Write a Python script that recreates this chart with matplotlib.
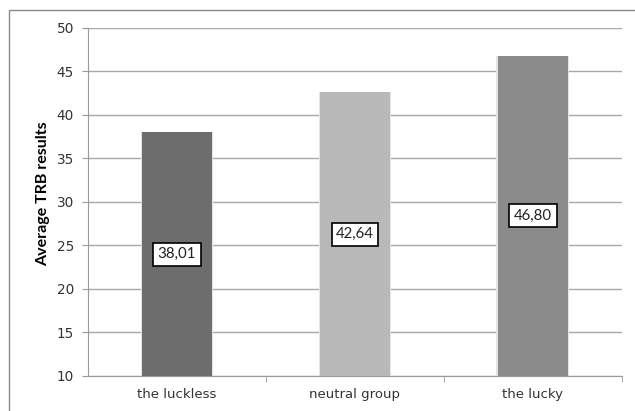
"""Bar chart of average TRB results for the three luck groups."""

import matplotlib

matplotlib.use("Agg")
import matplotlib.pyplot as plt  # noqa: E402
from matplotlib.patches import Rectangle  # noqa: E402

GROUPS = ["the luckless", "neutral group", "the lucky"]
AVERAGE_TRB = [38.01, 42.64, 46.80]
BAR_COLORS = ["#6d6d6d", "#b9b9b9", "#8b8b8b"]
Y_TICKS = [10, 15, 20, 25, 30, 35, 40, 45, 50]

plt.rcParams.update(
    {
        "font.family": ["Lato", "DejaVu Sans"],
        "font.size": 10,
    }
)

figure = plt.figure(figsize=(6.35, 4.11), dpi=100)
axis = figure.add_axes([0.1386, 0.0852, 0.8409, 0.8467])

# chart frame, left and top edges visible
figure.patches.append(
    Rectangle(
        (9 / 635, -0.1),
        1.2,
        1.1 - 10 / 411,
        transform=figure.transFigure,
        fill=False,
        edgecolor="#8a8a8a",
        linewidth=1.0,
    )
)

positions = range(len(GROUPS))
# soft light edge around each bar
axis.bar(positions, AVERAGE_TRB, width=0.41, color="#e4e4e4", zorder=2)
axis.bar(positions, AVERAGE_TRB, width=0.39, color=BAR_COLORS, zorder=3)

for x, value in zip(positions, AVERAGE_TRB):
    axis.text(
        x,
        (Y_TICKS[0] + value) / 2,
        f"{value:.2f}".replace(".", ","),
        ha="center",
        va="center",
        fontsize=10.8,
        color="#222222",
        zorder=4,
        bbox={
            "boxstyle": "square,pad=0.3",
            "facecolor": "white",
            "edgecolor": "black",
            "linewidth": 1.2,
        },
    )

axis.set_xlim(-0.5, len(GROUPS) - 0.5)
axis.set_ylim(Y_TICKS[0], Y_TICKS[-1])
axis.set_yticks(Y_TICKS)
axis.set_xticks(list(positions), GROUPS)
axis.set_xticks([0.5, 1.5, 2.5], minor=True)
axis.tick_params(axis="x", which="major", length=0, pad=9, labelsize=9.5, labelcolor="#333333")
axis.tick_params(axis="x", which="minor", length=4, color="#9a9a9a")
axis.tick_params(axis="y", length=4, color="#9a9a9a", labelsize=9.8, labelcolor="#333333", pad=6)
for label in axis.get_xticklabels() + axis.get_yticklabels():
    label.set_family("DejaVu Sans")

axis.grid(axis="y", color="#a8a8a8", linewidth=1.0, zorder=0)
axis.set_axisbelow(True)
for side in ("top", "right"):
    axis.spines[side].set_visible(False)
for side in ("left", "bottom"):
    axis.spines[side].set_color("#9a9a9a")

axis.set_ylabel("Average TRB results", fontsize=11.5, fontweight="bold", labelpad=5)
axis.yaxis.label.set_y(0.523)

figure.savefig("out.png", dpi=100, facecolor="white")
plt.close(figure)
